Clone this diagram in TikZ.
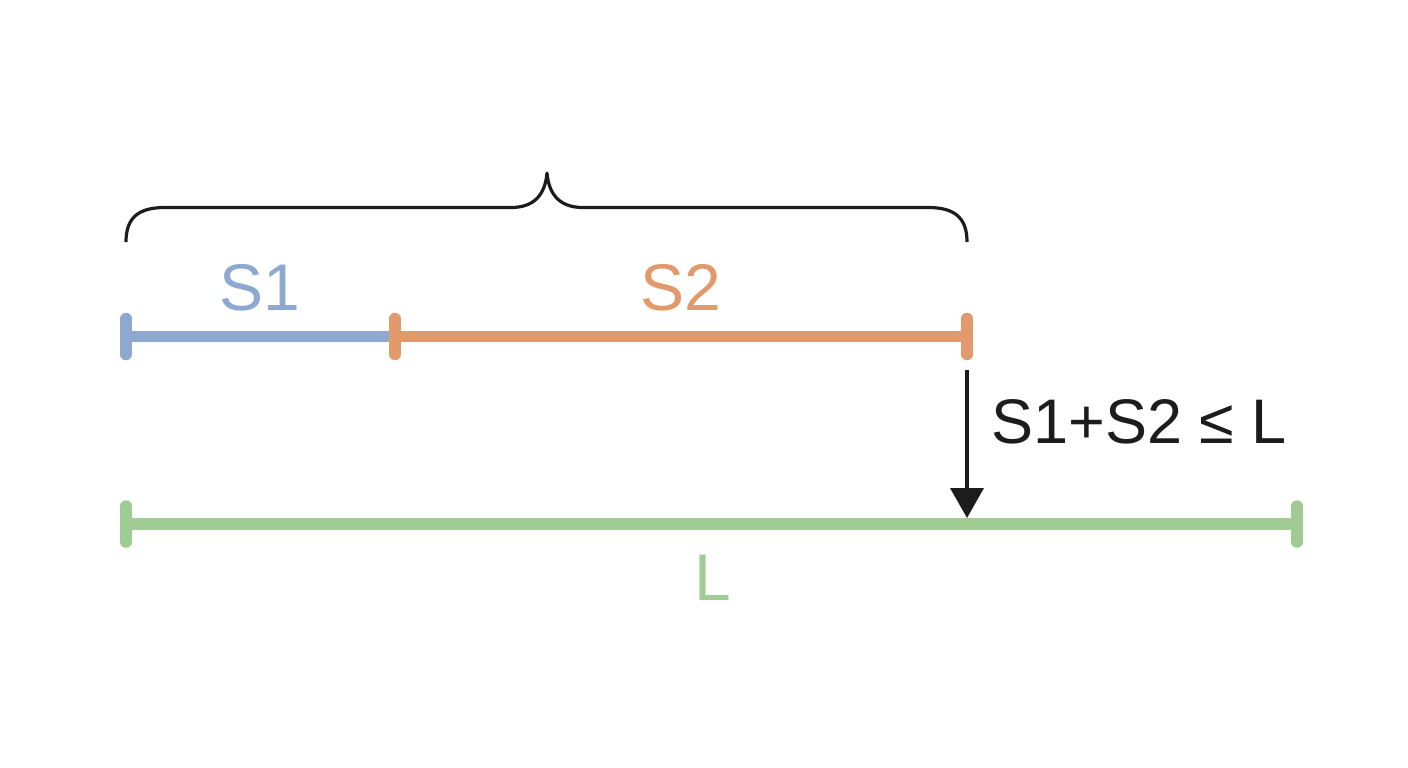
\documentclass[tikz,border=0pt]{standalone}
\usepackage{fontspec}
\setmainfont{Liberation Sans}
\usetikzlibrary{arrows.meta}
\definecolor{sblue}{RGB}{143,168,208}
\definecolor{sorange}{RGB}{226,154,108}
\definecolor{sgreen}{RGB}{160,204,148}
\definecolor{ink}{RGB}{28,28,28}
\tikzset{
  bar/.style={line width=11.5pt},
  tick/.style={line width=11.5pt, line cap=round},
  brace/.style={draw=ink, line width=3.2pt, line join=round},
  lbl/.style={inner sep=0pt, anchor=base, font=\fontsize{66}{80}\selectfont},
  conn/.style={draw=ink, line width=3.8pt, -{Triangle[width=33pt,length=30pt]}}
}
\begin{document}
\begin{tikzpicture}[x=1pt,y=-1pt]
\useasboundingbox (0,0) rectangle (1408,768);
% coordinates
\coordinate (a0) at (126,336.5);
\coordinate (a1) at (395,336.5);
\coordinate (a2) at (967,336.5);
\coordinate (b0) at (126,524);
\coordinate (b1) at (1297,524);
\coordinate (arrS) at (967,370);
\coordinate (arrE) at (967,518);
% brace
\draw[brace] (126,242) .. controls (126,218) and (138,207.5) .. (165,207.5)
  -- (511,207.5) .. controls (533,207.5) and (545,196) .. (547,173)
  .. controls (549,196) and (561,207.5) .. (583,207.5)
  -- (928,207.5) .. controls (955,207.5) and (967,218) .. (967,242);
% S1 bar
\draw[bar, sblue] (a0) -- (a1);
\draw[tick, sblue] ([yshift=-18pt]a0) -- ([yshift=18pt]a0);
% S2 bar
\draw[bar, sorange] (a1) -- (a2);
\draw[tick, sorange] ([yshift=-18pt]a1) -- ([yshift=18pt]a1);
\draw[tick, sorange] ([yshift=-18pt]a2) -- ([yshift=18pt]a2);
% L bar
\draw[bar, sgreen] (b0) -- (b1);
\draw[tick, sgreen] ([yshift=-18pt]b0) -- ([yshift=18pt]b0);
\draw[tick, sgreen] ([yshift=-18pt]b1) -- ([yshift=18pt]b1);
% labels
\node[lbl, text=sblue] (s1) at (260,310) {S1};
\node[lbl, text=sorange] (s2) at (681,310) {S2};
\node[lbl, text=sgreen] (l) at (713,600) {L};
\node[lbl, anchor=base west, text=ink, font=\fontsize{63}{76}\selectfont] (cond) at (991,443) {S1+S2 ≤ L};
% arrow
\draw[conn] (arrS) -- (arrE);
\end{tikzpicture}
\end{document}
